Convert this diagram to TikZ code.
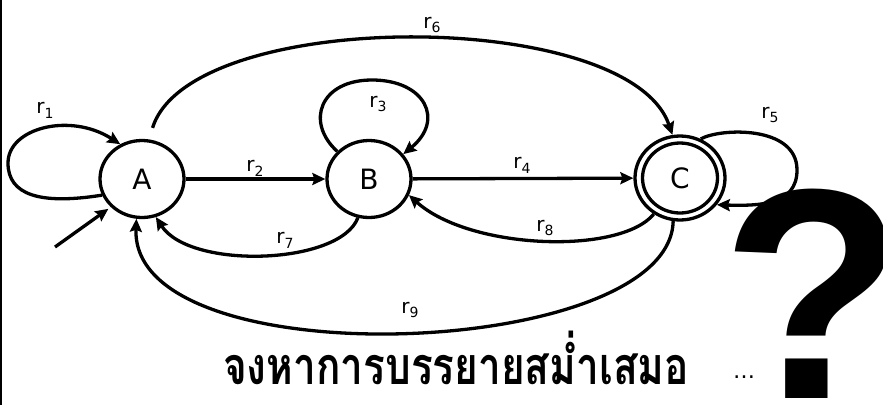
\documentclass[tikz,border=0pt]{standalone}
\usepackage{fontspec}
\setmainfont{DejaVu Sans}
\newfontfamily\thaifont[Script=Thai]{Loma}
\newfontfamily\qfont{Liberation Sans}
\usetikzlibrary{arrows.meta,shapes.geometric}
\newcommand\lab[1]{r\raisebox{-0.45ex}{\fontsize{14}{14}\selectfont #1}}
\begin{document}
\begin{tikzpicture}[x=1pt,y=-1pt,
  stnode/.style={draw,ellipse,line width=3.3pt,inner sep=0pt,minimum width=84pt,minimum height=77pt,font=\fontsize{28}{28}\selectfont},
  edge/.style={line width=3.3pt,-{Stealth[length=13pt,width=12pt,inset=2pt]}},
  lbl/.style={font=\fontsize{20}{20}\selectfont,inner sep=0pt}]
\useasboundingbox (0,0) rectangle (883,405);
\draw[line width=2pt] (1,0) -- (1,405);
\node[stnode] (A) at (142,179) {A};
\node[stnode] (B) at (369,179) {B};
\node[stnode,minimum width=90pt,minimum height=84pt] (C) at (680,178) {C};
\node[draw,ellipse,line width=3.3pt,inner sep=0pt,minimum width=75pt,minimum height=70pt] (Cin) at (680,178) {};
\coordinate (s) at (55,247);
% initial
\draw[edge,shorten >=3pt] (s) -- (A.222);
% r1
\draw[edge] (A.202) .. controls (40,205) and (8,195) .. (8,163) .. controls (8,128) and (70,112) .. (A.122);
% r2
\draw[edge] (A) -- (B);
% r3
\draw[edge] (B.139) .. controls (305,122) and (320,80) .. (372,80) .. controls (425,80) and (445,120) .. (B.36);
% r4
\draw[edge] (B) -- (C);
% r5
\draw[edge] (C.62) .. controls (720,128) and (797,125) .. (797,170) .. controls (797,205) and (760,206) .. (C.324);
% r6
\draw[edge,shorten <=12pt] (A.80) .. controls (190,7) and (629,7) .. (C.100);
% r7
\draw[edge] (B.254) .. controls (340,265) and (190,270) .. (A.290);
% r8
\draw[edge] (C.234) .. controls (620,255) and (470,250) .. (B.338);
% r9
\draw[edge] (C.261) .. controls (670,360) and (130,380) .. (A.262);
% labels
\node[lbl] (l1) at (45,110) {\lab{1}};
\node[lbl] (l2) at (255,168) {\lab{2}};
\node[lbl] (l3) at (378,104) {\lab{3}};
\node[lbl] (l4) at (522,165) {\lab{4}};
\node[lbl] (l5) at (770,115) {\lab{5}};
\node[lbl] (l6) at (432,25) {\lab{6}};
\node[lbl] (l7) at (285,240) {\lab{7}};
\node[lbl] (l8) at (545,228) {\lab{8}};
\node[lbl] (l9) at (410,310) {\lab{9}};
% Thai text
\node[inner sep=0pt,anchor=base] (t) at (456,384) {\scalebox{0.78}[1]{\thaifont\bfseries\fontsize{52}{52}\selectfont จงหาการบรรยายสม่ำเสมอ}};
\node[inner sep=0pt,anchor=base] (dots) at (744,378) {\fontsize{22}{22}\selectfont\rmfamily\ldots};
\node[inner sep=0pt,anchor=base] (q) at (813,398) {\qfont\bfseries\fontsize{300}{300}\selectfont ?};
\end{tikzpicture}
\end{document}
